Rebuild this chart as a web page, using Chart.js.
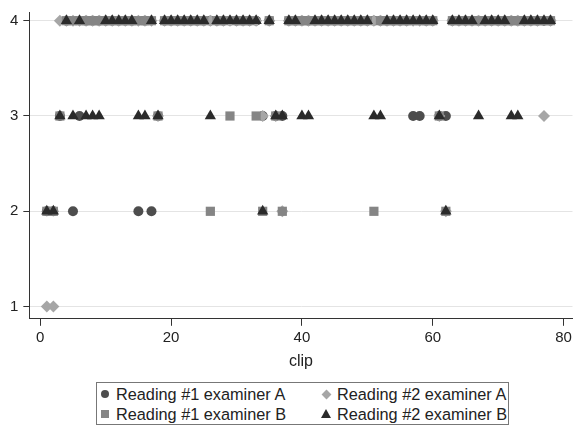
<!DOCTYPE html>
<html>
<head>
<meta charset="utf-8">
<script src="https://cdn.jsdelivr.net/npm/chart.js@4.4.0/dist/chart.umd.min.js"></script>
<style>
  body { margin: 0; background: #fff; font-family: "Liberation Sans", Arial, sans-serif; }
  #wrap { position: relative; width: 579px; height: 429px; background: #fff; }
  #chartBox { position: absolute; left: 0; top: 0; width: 579px; height: 373px; }
  #legend {
    position: absolute; left: 96px; top: 382px; width: 413px; height: 43px;
    border: 1px solid #777; box-sizing: border-box;
    display: grid; grid-template-columns: 221px auto;
    font-size: 16.3px; color: #222; padding: 1px 0 0 2px; line-height: 20px;
  }
  .item { display: flex; align-items: center; white-space: nowrap; }
  .sym { display: inline-block; width: 12px; height: 12px; position: relative; margin-right: 5px; }
  .sym i { position: absolute; display: block; }
</style>
</head>
<body>
<div id="wrap">
  <div id="chartBox"><canvas id="c"></canvas></div>
  <div id="legend"></div>
</div>
<script>
// clip numbers (x)
const clips = [1,2,3,4,5,6,7,8,9,10,11,12,13,14,15,16,17,18,19,20,
  21,22,23,24,25,26,27,28,29,30,31,32,33,34,35,36,37,38,39,40,
  41,42,43,44,45,46,47,48,49,50,51,52,53,54,55,56,57,58,59,60,
  61,62,63,64,65,66,67,68,69,70,71,72,73,74,75,76,77,78];

// readings per clip
const reading1A = [2,2,3,4,2,3,4,4,4,4, 4,4,4,4,2,4,2,3,4,4,
  4,4,4,4,4,4,4,4,4,4, 4,4,4,3,4,3,3,4,4,4, 4,4,4,4,4,4,4,4,4,4,
  4,4,4,4,4,4,3,3,4,4, 3,3,4,4,4,4,4,4,4,4, 4,4,4,4,4,4,4,4];
const reading2A = [1,1,4,4,4,4,4,4,4,4, 4,4,4,4,4,4,4,3,4,4,
  4,4,4,4,4,4,4,4,4,4, 4,4,4,3,4,3,2,4,4,4, 4,4,4,4,4,4,4,4,4,4,
  4,4,4,4,4,4,4,4,4,4, 3,2,4,4,4,4,4,4,4,4, 4,4,4,4,4,4,3,4];
const reading1B = [2,2,3,4,4,4,4,4,4,4, 4,4,4,4,4,4,4,3,4,4,
  4,4,4,4,4,2,4,4,3,4, 4,4,3,2,4,3,2,4,4,4, 4,4,4,4,4,4,4,4,4,4,
  2,4,4,4,4,4,4,4,4,4, 3,2,4,4,4,4,4,4,4,4, 4,4,4,4,4,4,4,4];
const reading2B = [2,2,3,4,3,4,3,3,3,4, 4,4,4,4,3,3,4,3,4,4,
  4,4,4,4,4,3,4,4,4,4, 4,4,4,2,4,3,3,4,4,3, 3,4,4,4,4,4,4,4,4,4,
  3,3,4,4,4,4,4,4,4,4, 3,2,4,4,4,4,3,4,4,4, 4,3,3,4,4,4,4,4];

const seriesNames = ['Reading #1 examiner A', 'Reading #2 examiner A', 'Reading #1 examiner B', 'Reading #2 examiner B'];
const xTicks = [0, 20, 40, 60, 80];
const yTicks = [1, 2, 3, 4];

const FONT = '"Liberation Sans", Arial, sans-serif';
const styles = [
  { shape: 'circle',   color: '#4d4d4d', r: 5,   order: 3 },
  { shape: 'rectRot',  color: '#a6a6a6', r: 6,   order: 2 },
  { shape: 'rect',     color: '#858585', r: 6.5, order: 1 },
  { shape: 'triangle', color: '#2b2b2b', r: 6.5, order: 0 }
];
const allValues = [reading1A, reading2A, reading1B, reading2B];

function toPoints(vals) {
  return clips.map((c, i) => ({ x: c, y: vals[i] }));
}

const datasets = allValues.map((vals, k) => ({
  label: seriesNames[k],
  data: toPoints(vals),
  pointStyle: styles[k].shape,
  pointRadius: styles[k].r,
  pointHoverRadius: styles[k].r,
  backgroundColor: styles[k].color,
  borderColor: styles[k].color,
  borderWidth: 0,
  order: styles[k].order,
  clip: false
}));

new Chart(document.getElementById('c'), {
  type: 'scatter',
  data: { datasets },
  options: {
    responsive: true,
    maintainAspectRatio: false,
    animation: false,
    layout: { padding: { top: 0, left: 5, right: 4, bottom: 0 } },
    plugins: { legend: { display: false }, tooltip: { enabled: false } },
    scales: {
      x: {
        type: 'linear', min: -1.67, max: 81.36,
        afterBuildTicks: s => { s.ticks = xTicks.map(v => ({ value: v })); },
        grid: { drawOnChartArea: false, tickLength: 7, tickColor: '#333' },
        border: { color: '#333', width: 1 },
        ticks: { color: '#222', font: { size: 15, family: FONT }, padding: 3, maxRotation: 0 },
        title: { display: true, text: 'clip', color: '#222', font: { size: 16, family: FONT }, padding: { top: 2, bottom: 2 } }
      },
      y: {
        min: 0.872, max: 4.086,
        afterBuildTicks: s => { s.ticks = yTicks.map(v => ({ value: v })); },
        grid: { color: '#e4e4e4', tickColor: '#333', tickLength: 6 },
        border: { color: '#333', width: 1 },
        ticks: { color: '#222', font: { size: 15, family: FONT, lineHeight: 1 }, padding: 5 }
      }
    }
  }
});

// legend as html, 2 columns
const legendOrder = [0, 1, 2, 3];
const legendEl = document.getElementById('legend');
legendOrder.forEach(k => {
  const st = styles[k];
  let sym = '';
  if (st.shape === 'circle') sym = `<i style="left:2px;top:2px;width:8px;height:8px;border-radius:50%;background:${st.color}"></i>`;
  if (st.shape === 'rect') sym = `<i style="left:2px;top:2px;width:8px;height:8px;background:${st.color}"></i>`;
  if (st.shape === 'rectRot') sym = `<i style="left:2.5px;top:2.5px;width:7px;height:7px;transform:rotate(45deg);background:${st.color}"></i>`;
  if (st.shape === 'triangle') sym = `<i style="left:1px;top:1px;width:0;height:0;border-left:5px solid transparent;border-right:5px solid transparent;border-bottom:9px solid ${st.color}"></i>`;
  legendEl.innerHTML += `<div class="item"><span class="sym">${sym}</span>${seriesNames[k]}</div>`;
});
</script>
</body>
</html>
